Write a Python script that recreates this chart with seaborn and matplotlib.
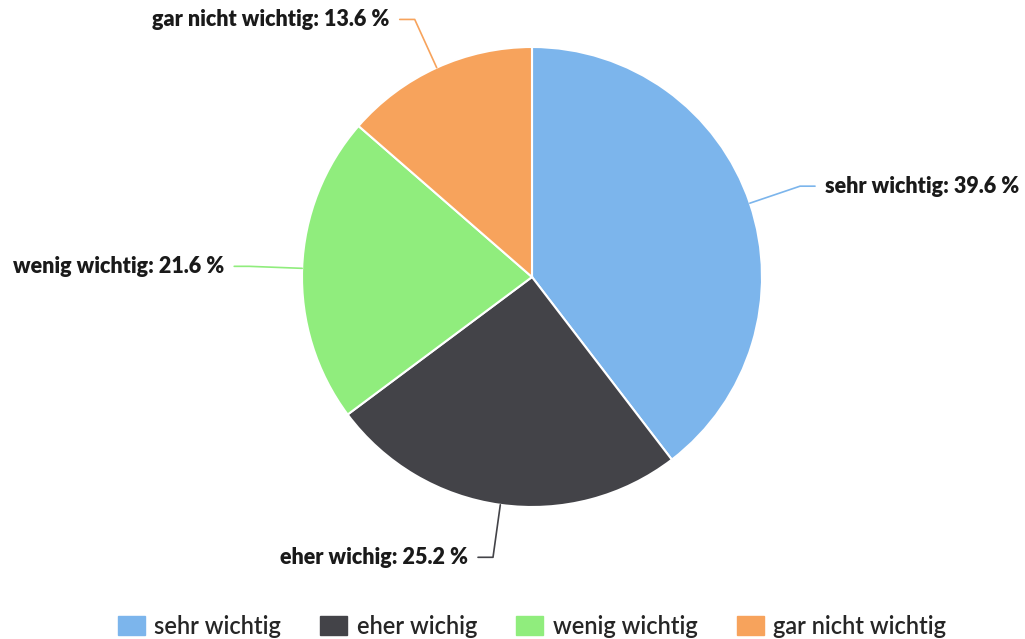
import numpy as np
import matplotlib
matplotlib.use("Agg")
import matplotlib.pyplot as plt
import seaborn as sns

# survey answers, clockwise from 12 o'clock
categories = ["sehr wichtig", "eher wichig", "wenig wichtig", "gar nicht wichtig"]
shares = [39.6, 25.2, 21.6, 13.6]
colors = ["#7cb5ec", "#434348", "#90ed7d", "#f7a35c"]

sns.set_theme(style="white")
plt.rcParams["font.family"] = ["Lato", "DejaVu Sans"]

W, H = 1025, 639
fig = plt.figure(figsize=(W / 100, H / 100), dpi=100)
ax = fig.add_axes([0, 0, 1, 1])

cx, cy, r = 532, H - 277, 230
wedges, _ = ax.pie(shares, colors=colors, startangle=90, counterclock=False,
                   center=(cx, cy), radius=r,
                   wedgeprops=dict(edgecolor="white", linewidth=1.5))
ax.set_xlim(0, W)
ax.set_ylim(0, H)
ax.set_aspect("equal")
ax.axis("off")

# data labels with connectors
for w, name, val, col in zip(wedges, categories, shares, colors):
    theta = np.deg2rad((w.theta1 + w.theta2) / 2)
    c, s = np.cos(theta), np.sin(theta)
    side = 1 if c >= 0 else -1
    p0 = (cx + r * c, cy + r * s)
    p1 = (cx + (r + 53) * c, cy + (r + 53) * s)
    p2 = (p1[0] + side * 15, p1[1])
    ax.plot([p0[0], p1[0], p2[0]], [p0[1], p1[1], p2[1]], color=col, lw=1.2,
            solid_capstyle="round")
    ax.text(p2[0] + side * 10, p2[1], f"{name}: {val} %", ha="left" if side > 0 else "right",
            va="center", fontsize=15.5, fontweight="heavy", color="#1a1a1a")

handles = [plt.Rectangle((0, 0), 1, 1, color=c) for c in colors]
fig.legend(handles, categories, loc="center", bbox_to_anchor=(532 / W, 13 / H),
           ncol=4, frameon=False, handlelength=1.15, handleheight=0.85,
           columnspacing=1.65, handletextpad=0.4,
           prop=dict(size=17, weight="semibold"))

fig.savefig("out.png", dpi=100)
